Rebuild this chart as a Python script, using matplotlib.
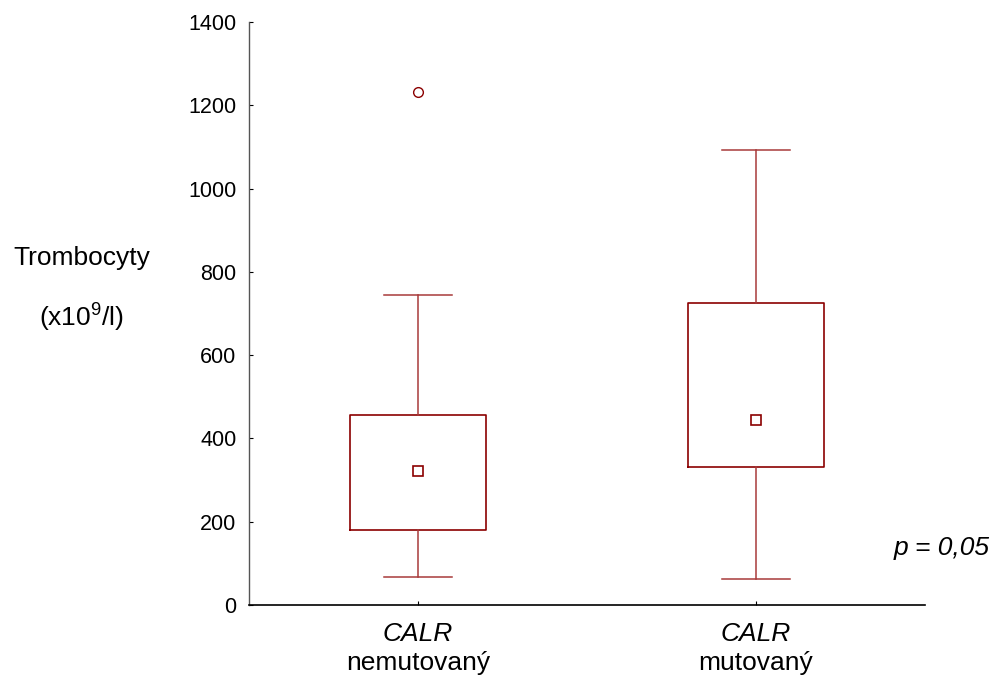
import matplotlib.pyplot as plt

plt.rcParams['font.family'] = ['Liberation Sans', 'DejaVu Sans']
plt.rcParams['mathtext.fontset'] = 'custom'
plt.rcParams['mathtext.rm'] = 'Liberation Sans'
plt.rcParams['mathtext.it'] = 'Liberation Sans:italic'

# Box plot values
genes = ["CALR", "CALR"]
groups = ["nemutovaný", "mutovaný"]
medians = [322, 444]
q1 = [181, 331]
q3 = [456, 725]
whisker_low = [67, 62]
whisker_high = [745, 1093]
outliers = [[1232], []]
yticks = [0, 200, 400, 600, 800, 1000, 1200, 1400]

box_col = "#8b0000"
whisk_col = "#a83a3a"

fig = plt.figure(figsize=(9.95, 6.79), dpi=100)
ax = fig.add_axes([0.2503, 0.109, 0.6793, 0.8586])

stats = []
for i in range(len(groups)):
    stats.append(dict(med=medians[i], q1=q1[i], q3=q3[i],
                      whislo=whisker_low[i], whishi=whisker_high[i],
                      fliers=outliers[i]))

pos = [1, 2]
ax.bxp(stats, positions=pos, widths=0.4, showfliers=True,
       boxprops=dict(color=box_col, linewidth=1.2),
       whiskerprops=dict(color=whisk_col, linewidth=1.1),
       capprops=dict(color=whisk_col, linewidth=1.1),
       medianprops=dict(linewidth=0),
       flierprops=dict(marker="o", markersize=7, markerfacecolor="white",
                       markeredgecolor=box_col, markeredgewidth=1.0))
ax.plot(pos, medians, linestyle="none", marker="s", markersize=6.5,
        markerfacecolor="white", markeredgecolor=box_col, markeredgewidth=1.2,
        zorder=5)

ax.set_xlim(0.5, 2.5)
ax.set_ylim(0, 1400)
ax.set_yticks(yticks)
ax.set_yticklabels([str(v) for v in yticks], fontsize=15.5)
ax.set_xticks(pos)
ax.set_xticklabels([])
ax.tick_params(axis="y", direction="in", length=3, width=0.8, pad=9)
ax.tick_params(axis="x", direction="in", length=3, width=0.8)

for s in ["top", "right"]:
    ax.spines[s].set_visible(False)
ax.spines["left"].set_color("#555555")
ax.spines["left"].set_linewidth(1.0)
ax.spines["bottom"].set_linewidth(1.2)

xt = ax.get_xaxis_transform()
for p, g, grp in zip(pos, genes, groups):
    ax.text(p, -0.05, g, transform=xt, ha="center", va="center",
            fontsize=19, style="italic")
    ax.text(p, -0.099, grp, transform=xt, ha="center", va="center",
            fontsize=19)

fig.text(82 / 995, 1 - 258 / 679, "Trombocyty", ha="center", va="center",
         fontsize=19)
fig.text(81 / 995, 1 - 318 / 679, "(x10$^9$/l)", ha="center", va="center",
         fontsize=19)
fig.text(990 / 995, 1 - 548 / 679, "p = 0,05", ha="right", va="center",
         fontsize=19, style="italic")

fig.savefig("out.png", dpi=100)
